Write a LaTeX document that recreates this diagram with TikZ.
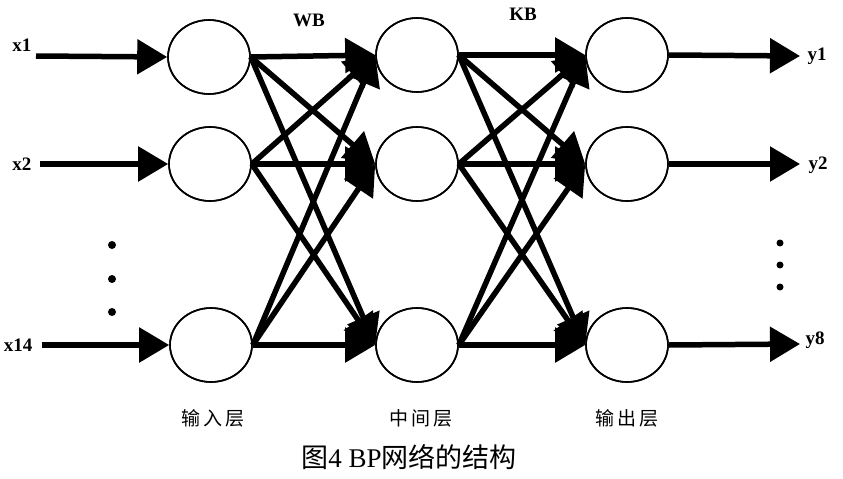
\documentclass[tikz,border=0pt]{standalone}
\usepackage{fontspec}
\setmainfont{Liberation Serif}
\newfontfamily\cjk{Noto Sans CJK SC}
\usetikzlibrary{shapes.geometric,arrows.meta}
\begin{document}
\begin{tikzpicture}[x=1pt,y=-1pt,
  neuron/.style={ellipse,draw,line width=1.6pt,minimum width=82pt,minimum height=74pt,inner sep=0pt,fill=white},
  conn/.style={line width=5.5pt,-{Triangle[length=30pt,width=34pt]}},
  lbl/.style={font=\fontsize{19}{21}\selectfont\bfseries,inner sep=0pt},
  layerlbl/.style={font=\cjk\fontsize{19}{21}\selectfont,inner sep=0pt},
  dotmark/.style={fill=black,draw=none}]
\useasboundingbox (0,0) rectangle (843,479);
% nodes
\node[neuron] (i1) at (209,57) {};
\node[neuron] (i2) at (210,164) {};
\node[neuron] (i3) at (211,345) {};
\node[neuron] (h1) at (417,55) {};
\node[neuron] (h2) at (417,164) {};
\node[neuron] (h3) at (417,345) {};
\node[neuron] (o1) at (627,55) {};
\node[neuron] (o2) at (627,164) {};
\node[neuron] (o3) at (627,345) {};
% input/output free ends
\coordinate (a1) at (36,56);
\coordinate (a2) at (40,164);
\coordinate (a3) at (42,345);
\coordinate (b1) at (800,56);
\coordinate (b2) at (800,164);
\coordinate (b3) at (800,344);
\draw[conn] (a1) -- (i1.west);
\draw[conn] (a2) -- (i2.west);
\draw[conn] (a3) -- (i3.west);
\draw[conn] (o1.east) -- (b1);
\draw[conn] (o2.east) -- (b2);
\draw[conn] (o3.east) -- (b3);
% layer connections
\foreach \s in {i1,i2,i3}{
  \foreach \t in {h1,h2,h3}{
    \draw[conn] (\s.east) -- (\t.west);
  }
}
\foreach \s in {h1,h2,h3}{
  \foreach \t in {o1,o2,o3}{
    \draw[conn] (\s.east) -- (\t.west);
  }
}
% redraw ellipse outlines on top
\foreach \n in {i1,i2,i3,h1,h2,h3,o1,o2,o3}{
  \draw[line width=1.6pt] (\n.center) ellipse (41pt and 37pt);
}
% labels
\node[lbl] (lx1) at (22,45) {x1};
\node[lbl] (lx2) at (22,164) {x2};
\node[lbl] (lx14) at (18,345) {x14};
\node[lbl] (ly1) at (817,56) {y1};
\node[lbl] (ly2) at (818,165) {y2};
\node[lbl] (ly8) at (815,340) {y8};
\node[lbl] (wb) at (309,20) {WB};
\node[lbl] (kb) at (523,14) {KB};
% dots
\fill[dotmark] (112,245) circle (4);
\fill[dotmark] (112,279) circle (4);
\fill[dotmark] (112,312) circle (4);
\fill[dotmark] (780,243) circle (3.5);
\fill[dotmark] (780,265) circle (3.5);
\fill[dotmark] (780,287) circle (3.5);
% layer names
\node[layerlbl] (n1) at (213,418) {输\,入\,层};
\node[layerlbl] (n2) at (421,418) {中\,间\,层};
\node[layerlbl] (n3) at (627,418) {输\,出\,层};
% caption
\node[inner sep=0pt] (cap) at (409,457) {\cjk\fontsize{27}{30}\selectfont 图{\rmfamily 4~BP}网络的结构};
\end{tikzpicture}
\end{document}
